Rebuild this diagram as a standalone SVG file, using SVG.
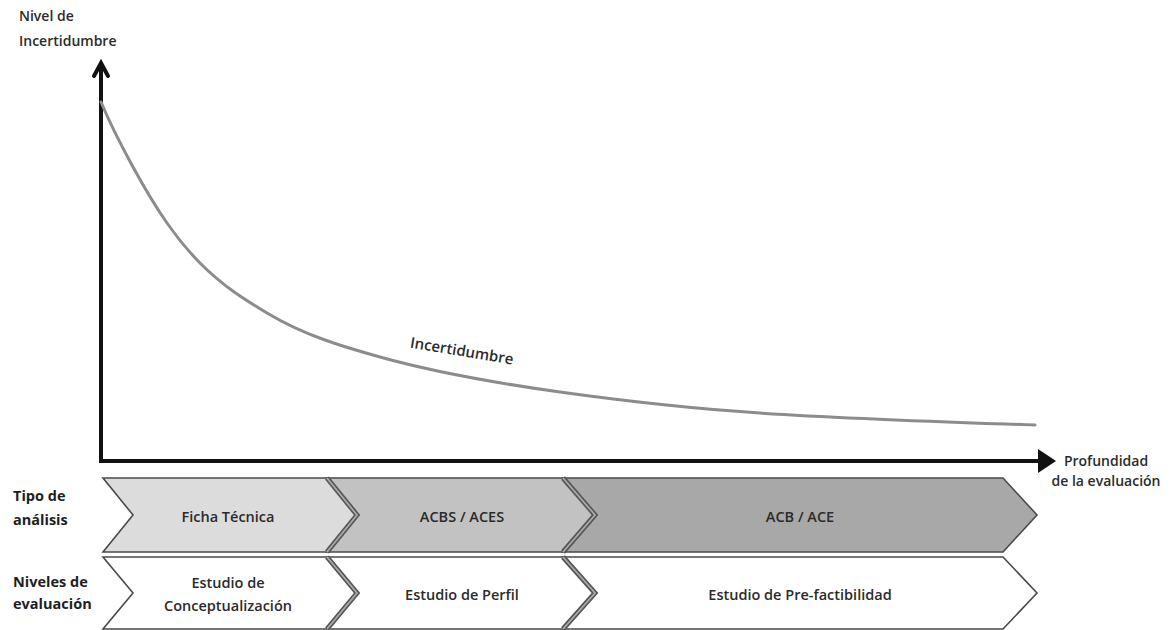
<svg xmlns="http://www.w3.org/2000/svg" width="1175" height="630" viewBox="0 0 1175 630">
  <style>
    text { font-family: "Open Sans", "Noto Sans", "Liberation Sans", sans-serif; fill: #2b2b2b; }
    .lbl { font-size: 14px; font-weight: 600; }
    .side { font-size: 14.5px; font-weight: 700; fill: #1e1e1e; }
    .box { font-size: 14.5px; font-weight: 600; text-anchor: middle; }
    .axis { fill: none; stroke: #111; stroke-width: 4; }
    .curve { fill: none; stroke: #8c8c8c; stroke-width: 3; stroke-linecap: round; }
    .chev { stroke: #4a4a4a; stroke-width: 1.6; stroke-linejoin: miter; }
    .sep-out { fill: none; stroke: #555; stroke-width: 5; stroke-linejoin: miter; }
    .sep-in { fill: none; stroke: #aaa; stroke-width: 1.8; stroke-linejoin: miter; }
  </style>
  <defs>
    <marker id="tri" markerWidth="6" markerHeight="6" refX="1" refY="3" orient="auto" markerUnits="strokeWidth">
      <path d="M0,0 L4.5,3 L0,6 Z" fill="#111"/>
    </marker>
  </defs>

  <rect width="1175" height="630" fill="#fff"/>

  <!-- axis labels -->
  <g id="y-label">
    <text class="lbl" x="19" y="21">Nivel de</text>
    <text class="lbl" x="19" y="46">Incertidumbre</text>
  </g>
  <g id="x-label">
    <text class="lbl" x="1106" y="466" text-anchor="middle">Profundidad</text>
    <text class="lbl" x="1106" y="486" text-anchor="middle">de la evaluación</text>
  </g>

  <!-- axes -->
  <g id="connectors">
    <path class="axis" d="M101,66 L101,461 L1042,461" marker-end="url(#tri)"/>
    <path class="axis" d="M94,76 L101,63 L108,76" stroke-linecap="round" stroke-linejoin="miter"/>
  </g>

  <!-- uncertainty curve -->
  <g id="curve">
    <path class="curve" d="M101,102 C111.67,127.6 122.33,147.48 133,167 C144.33,187.74 155.67,206.8 167,223 C178,238.73 189,251.83 200,263 C222.33,285.67 244.67,299.6 267,313 C304.67,335.6 342.33,346.45 380,357 C440,373.8 500,383.6 560,392 C626.67,401.33 693.33,408.67 760,413 C851.67,418.96 943.33,421.79 1035,425"/>
    <text x="461" y="356" font-size="15" font-weight="600" text-anchor="middle" transform="rotate(9.5 461 356)">Incertidumbre</text>
  </g>

  <!-- row labels -->
  <g id="row-labels">
    <text class="side" x="13" y="501">Tipo de</text>
    <text class="side" x="13" y="525">análisis</text>
    <text class="side" x="13" y="587">Niveles de</text>
    <text class="side" x="13" y="609">evaluación</text>
  </g>

  <!-- analysis type chevrons -->
  <g id="ficha-tecnica">
    <path class="chev" fill="#dcdcdc" d="M103,478 L327,478 L357,515 L327,552 L103,552 L133,515 Z"/>
    <text class="box" x="228" y="522">Ficha Técnica</text>
  </g>
  <g id="acbs-aces">
    <path class="chev" fill="#c2c2c2" d="M327,478 L563,478 L595,515 L563,552 L327,552 L357,515 Z"/>
    <text class="box" x="462" y="522">ACBS / ACES</text>
  </g>
  <g id="acb-ace">
    <path class="chev" fill="#a8a8a8" d="M563,478 L1003,478 L1037,515 L1003,552 L563,552 L595,515 Z"/>
    <text class="box" x="800" y="522">ACB / ACE</text>
  </g>

  <!-- evaluation level chevrons -->
  <g id="conceptualizacion">
    <path class="chev" fill="#fff" d="M103,557 L327,557 L357,593 L327,629 L103,629 L133,593 Z"/>
    <text class="box" x="228" y="588">Estudio de</text>
    <text class="box" x="228" y="611">Conceptualización</text>
  </g>
  <g id="perfil">
    <path class="chev" fill="#fff" d="M327,557 L563,557 L595,593 L563,629 L327,629 L357,593 Z"/>
    <text class="box" x="462" y="600">Estudio de Perfil</text>
  </g>
  <g id="prefactibilidad">
    <path class="chev" fill="#fff" d="M563,557 L1003,557 L1037,593 L1003,629 L563,629 L595,593 Z"/>
    <text class="box" x="800" y="600">Estudio de Pre-factibilidad</text>
  </g>

  <!-- double-line boundaries between stages -->
  <g id="separators">
    <path class="sep-out" d="M327,478 L357,515 L327,552"/>
    <path class="sep-in" d="M327,478 L357,515 L327,552"/>
    <path class="sep-out" d="M563,478 L595,515 L563,552"/>
    <path class="sep-in" d="M563,478 L595,515 L563,552"/>
    <path class="sep-out" d="M327,557 L357,593 L327,629"/>
    <path class="sep-in" d="M327,557 L357,593 L327,629"/>
    <path class="sep-out" d="M563,557 L595,593 L563,629"/>
    <path class="sep-in" d="M563,557 L595,593 L563,629"/>
  </g>
</svg>
